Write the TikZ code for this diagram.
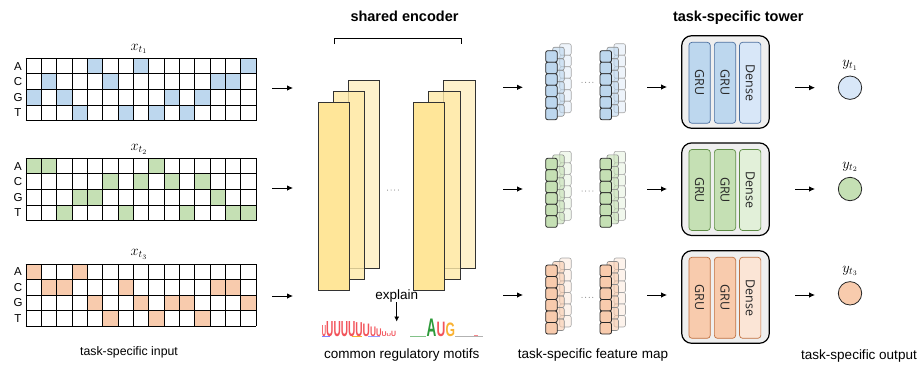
\documentclass[tikz,border=0pt]{standalone}
\usepackage{fontspec}
\setmainfont{Liberation Sans}
\newfontfamily\barfont{Open Sans}
\newfontfamily\logofont{Liberation Sans}
\usetikzlibrary{arrows.meta}
\definecolor{blueA}{HTML}{BDD7EE}
\definecolor{blueB}{HTML}{D8E7F8}
\definecolor{blueC}{HTML}{EEF4FB}
\definecolor{blueD}{HTML}{4A6FA0}
\definecolor{greenA}{HTML}{C5E0B4}
\definecolor{greenB}{HTML}{E2F0D9}
\definecolor{greenC}{HTML}{F1F8ED}
\definecolor{greenD}{HTML}{5E8C45}
\definecolor{orangeA}{HTML}{F8CBAD}
\definecolor{orangeB}{HTML}{FBE5D6}
\definecolor{orangeC}{HTML}{FDF3EC}
\definecolor{orangeD}{HTML}{C0703F}
\definecolor{encA}{HTML}{FFE699}
\definecolor{encB}{HTML}{FFEAA8}
\definecolor{encC}{HTML}{FFF2CC}
\definecolor{towerbg}{HTML}{EFEFEF}
\definecolor{logored}{HTML}{F2545B}
\definecolor{logogreen}{HTML}{2E9A3A}
\definecolor{logoorange}{HTML}{F9B233}
\tikzset{
  arr/.style={-{Latex[length=6pt,width=5.5pt]}, line width=0.8pt},
  lbl/.style={font=\fontsize{12.3}{14}\selectfont, inner sep=0, anchor=base},
  lblb/.style={font=\fontsize{13.5}{15}\selectfont, inner sep=0, anchor=base},
  ttl/.style={font=\fontsize{14.5}{16}\selectfont\bfseries, inner sep=0, anchor=base},
  nuc/.style={font=\fontsize{11.5}{13}\selectfont, inner sep=0},
  mlab/.style={font=\fontsize{14}{16}\selectfont, inner sep=0, anchor=base},
  gridline/.style={line width=0.9pt, draw=black},
  encline/.style={line width=0.8pt, draw=black!80},
  fsqA/.style={line width=0.8pt, draw=black!85, rounded corners=2pt},
  fsqB/.style={line width=0.6pt, draw=black!45, rounded corners=2pt, fill opacity=0.6},
  fsqC/.style={line width=0.6pt, draw=black!35, rounded corners=2pt},
  towerbox/.style={draw=black, line width=1.2pt, fill=towerbg, rounded corners=10pt,
    minimum width=87.6pt, minimum height=92.6pt, inner sep=0},
  barbox/.style={rounded corners=3pt, line width=0.7pt, minimum width=81pt,
    minimum height=21.3pt, inner sep=0, rotate=-90, text=black!85,
    font=\barfont\fontsize{12.5}{14}\selectfont},
  outc/.style={circle, draw=black!85, line width=0.8pt, minimum size=23.4pt, inner sep=0},
}
\newcommand\seqgrid[4]{% #1 top, #2 fill, #3 list, #4 name prefix
  \foreach \r [count=\c from 0] in {#3} {
    \fill[#2] ({26+\c*15.333},{#1+\r*15.6}) rectangle ++(15.333,15.6);
  }
  \foreach \i in {0,...,15} {\draw[gridline] ({26+\i*15.333},#1) -- ++(0,62.4);}
  \foreach \j in {0,...,4} {\draw[gridline] (25.55,{#1+\j*15.6}) -- ++(230.9,0);}
  \foreach \n/\k in {A/0,C/1,G/2,T/3} {
    \node[nuc] (#4\n) at (18,{#1+\k*15.6+7.8}) {\n};
  }
}
\newcommand\fstack[3]{% #1 x, #2 top, #3 colour prefix
  \foreach \k in {0,...,5} {\draw[fsqC, fill=#3C] ({#1+14},{#2-7+\k*11.5}) rectangle ++(11.5,11.5);}
  \foreach \k in {0,...,5} {\draw[fsqB, fill=#3A] ({#1+7},{#2-3.5+\k*11.5}) rectangle ++(11.5,11.5);}
  \foreach \k in {0,...,5} {\draw[fsqA, fill=#3A] ({#1},{#2+\k*11.5}) rectangle ++(11.5,11.5);}
}
\newcommand\tdots[2]{%
  \foreach \k in {0,...,3} {\fill[black!60] ({#1+\k*3.6},#2) circle (0.5pt);}
}
\newcommand\towerrow[3]{% #1 centre y, #2 colour prefix, #3 name
  \node[towerbox] (#3) at (725.5,#1) {};
  \node[barbox, draw=#2D, fill=#2A] (#3g1) at (699.6,{#1+0.8}) {GRU};
  \node[barbox, draw=#2D, fill=#2A] (#3g2) at (725.0,{#1+0.8}) {GRU};
  \node[barbox, draw=#2D, fill=#2B] (#3d) at (750.2,{#1+0.8}) {Dense};
}
\begin{document}
\begin{tikzpicture}[x=1pt,y=-1pt]
\useasboundingbox (0,0) rectangle (918,365);

% ---------- inputs ----------
\seqgrid{58.3}{blueA}{2,1,2,3,0,1,3,0,3,2,3,2,1,1,0}{ga}
\seqgrid{158.3}{greenA}{0,0,3,2,2,1,3,1,0,1,3,1,2,3,3}{gb}
\seqgrid{264}{orangeA}{0,1,1,0,2,3,1,2,3,2,2,3,1,1,2}{gc}
\node[mlab] (xa) at (139,50) {$x_{t_1}$};
\node[mlab] (xb) at (139,150.5) {$x_{t_2}$};
\node[mlab] (xc) at (139,255.5) {$x_{t_3}$};
\node[lbl] (inlab) at (129,355) {task-specific input};

% ---------- arrows rows ----------
\foreach \n/\y/\ya/\yb/\yc in {1/88/87.3/87/87.7, 2/188/189/189/189, 3/296/295/295/295} {
  \coordinate (ia\n) at (272,\y);   \coordinate (ib\n) at (293,\y);
  \coordinate (ea\n) at (503,\ya);  \coordinate (eb\n) at (523,\ya);
  \coordinate (fa\n) at (647,\yb);  \coordinate (fb\n) at (667,\yb);
  \coordinate (ta\n) at (795,\yc);  \coordinate (tb\n) at (815,\yc);
  \draw[arr] (ia\n) -- (ib\n);
  \draw[arr] (ea\n) -- (eb\n);
  \draw[arr] (fa\n) -- (fb\n);
  \draw[arr] (ta\n) -- (tb\n);
}

% ---------- shared encoder ----------
\node[ttl] (enctitle) at (404.5,21.7) {shared encoder};
\coordinate (br1) at (334,44); \coordinate (br2) at (334,38.3);
\coordinate (br3) at (461.3,38.3); \coordinate (br4) at (461.3,44);
\draw[line width=0.9pt] (br1) -- (br2) -- (br3) -- (br4);
\foreach \dx in {0,95.4} {
  \draw[encline, fill=encC] ({348.3+\dx},80.7) rectangle ++(31.4,187.6);
  \draw[encline, fill=encB, fill opacity=0.8] ({333.3+\dx},91.3) rectangle ++(31.4,188);
  \draw[encline, fill=encA] ({318.3+\dx},102.3) rectangle ++(31,187.7);
}
\tdots{387.5}{190}

% ---------- motifs ----------
\node[lblb] (explain) at (396.7,299) {explain};
\coordinate (ex1) at (396.7,302); \coordinate (ex2) at (396.7,321.5);
\draw[-{Latex[length=5pt,width=5pt]}, line width=0.6pt] (ex1) -- (ex2);
\foreach \x/\w/\h in {321.7/4.3/11.5, 326/7.3/15.7, 333.3/7.3/15.7, 340.6/7.3/15.7,
  347.9/7.3/15.7, 355.2/7.3/14.5, 362.5/7.3/13, 369.8/6/10, 375.8/5.5/8,
  381.3/5/5, 386.3/4.5/3, 390.8/5/5.5} {
  \pgfmathsetmacro\sx{\w/7.22}\pgfmathsetmacro\sy{\h/7.2}
  \node[anchor=south west, inner sep=0, text=logored, font=\logofont\bfseries\fontsize{10}{10}\selectfont]
    at (\x,336.5) {\scalebox{\sx}[\sy]{U}};
}
\draw[line width=0.7pt, blue!50] (322,336.8) -- (330,336.8);
\draw[line width=0.7pt, logoorange] (352,336.8) -- (362,336.8);
\draw[line width=0.7pt, blue!40] (368,336.8) -- (380,336.8);
\draw[line width=0.6pt, logogreen!60] (410,336.5) -- (426,336.5);
\draw[line width=0.6pt, black!30] (455,336.5) -- (483,336.5);
\draw[line width=0.8pt, logored!70] (474,335.8) -- (478,335.8);
\foreach \x/\w/\h/\c/\l in {426.3/10/18.3/logogreen/A, 436.3/9/15/logored/U, 445.3/9/14/logoorange/G} {
  \pgfmathsetmacro\sx{\w/7.4}\pgfmathsetmacro\sy{\h/7.2}
  \node[anchor=south west, inner sep=0, text=\c, font=\logofont\bfseries\fontsize{10}{10}\selectfont]
    at (\x,336.5) {\scalebox{\sx}[\sy]{\l}};
}
\node[lblb] (motlab) at (401.7,358) {common regulatory motifs};

% ---------- feature maps ----------
\fstack{545.7}{50.7}{blue}   \fstack{600}{50.7}{blue}   \tdots{582}{82.3}
\fstack{545.7}{158.3}{green} \fstack{600}{158.3}{green} \tdots{582}{191}
\fstack{545.7}{265}{orange}  \fstack{600}{265}{orange}  \tdots{582}{297.3}
\node[lblb] (fmlab) at (593,358) {task-specific feature map};

% ---------- towers ----------
\node[ttl] (towtitle) at (738.3,21.7) {task-specific tower};
\towerrow{82}{blue}{tw1}
\towerrow{189.2}{green}{tw2}
\towerrow{297}{orange}{tw3}

% ---------- outputs ----------
\node[outc, fill=blueB] (o1) at (850,87.7) {};
\node[outc, fill=greenA] (o2) at (850,189) {};
\node[outc, fill=orangeA] (o3) at (850,293.3) {};
\node[mlab] (ya) at (850,66.5) {$y_{t_1}$};
\node[mlab] (yb) at (850,168) {$y_{t_2}$};
\node[mlab] (yc) at (850,272) {$y_{t_3}$};
\node[lblb] (outlab) at (859,359) {task-specific output};
\end{tikzpicture}
\end{document}
